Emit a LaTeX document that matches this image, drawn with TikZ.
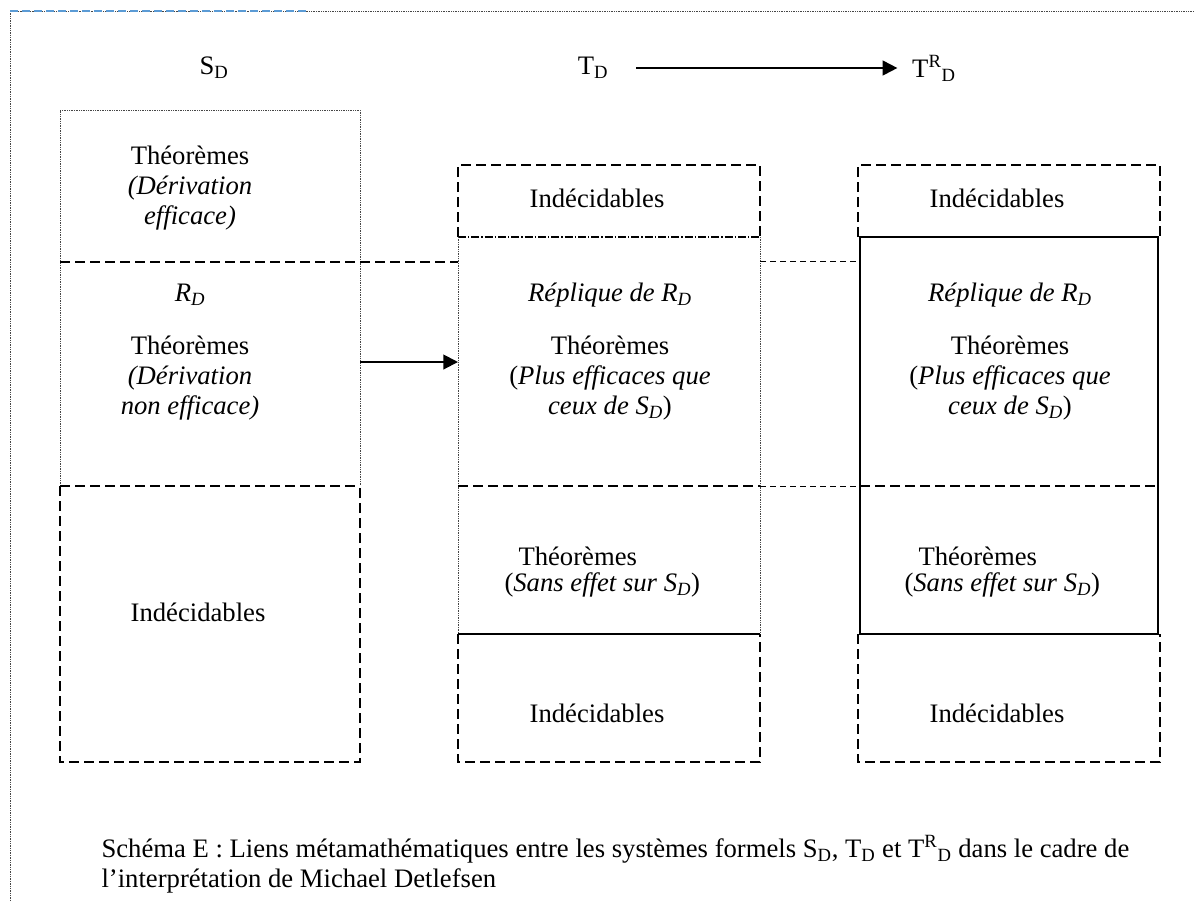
\documentclass[tikz,border=0pt]{standalone}
\usepackage{fontspec}
\setmainfont{Liberation Serif}
\usetikzlibrary{arrows.meta}

\tikzset{every picture/.style={line width=0.75pt}}
\tikzset{
  dotrule/.style={color={rgb, 255:red, 70; green, 70; blue, 70 }, line width=0.7pt, dash pattern=on 0.7pt off 0.6pt},
  dashrule/.style={line width=1.2pt, dash pattern=on 7.5pt off 3.75pt},
  thindash/.style={line width=0.6pt, dash pattern=on 4.5pt off 3pt},
  dashdotrule/.style={line width=1.1pt, dash pattern=on 6pt off 1.5pt on 1pt off 1.5pt},
  solidrule/.style={line width=1.4pt},
  lbl/.style={inner sep=0.75pt, font=\fontsize{20}{22.5}\selectfont, align=center},
  bigarrow/.style={line width=1.5pt, -{Triangle[length=11pt,width=11pt]}},
}

\begin{document}
\begin{tikzpicture}[x=0.75pt,y=0.75pt,yscale=-1,xscale=1]
\useasboundingbox (0,0) rectangle (1194,901);

%Frame
\draw [dotrule] (10,901) -- (10,11) -- (1194,11) ;
\draw [color={rgb, 255:red, 91; green, 155; blue, 213 }, line width=1.2pt, dash pattern=on 6pt off 3pt] (10,11) -- (308,11) ;

%Column S_D
\draw [dotrule] (60,486) -- (60,110) -- (360,110) -- (360,486) ;
\draw [dashrule] (60,262) -- (458,262) ;
\draw [dashrule] (60,486) -- (360,486) ;
\draw [dashrule] (60,486) -- (60,762) -- (360,762) -- (360,486) ;

%Column T_D
\draw [dashrule] (458,237) -- (458,165) -- (760,165) -- (760,237) ;
\draw [dashdotrule] (458,237) -- (760,237) ;
\draw [dotrule] (458,237) -- (458,634) ;
\draw [dotrule] (760,237) -- (760,634) ;
\draw [dashrule] (458,486) -- (760,486) ;
\draw [solidrule] (458,634) -- (760,634) ;
\draw [dashrule] (458,634) -- (458,762) -- (760,762) -- (760,634) ;

%Links between T_D and T^R_D
\draw [thindash] (760,261) -- (858,261) ;
\draw [thindash] (760,486) -- (858,486) ;

%Column T^R_D
\draw [dashrule] (858,237) -- (858,165) -- (1160,165) -- (1160,237) -- cycle ;
\draw [solidrule] (860,237) rectangle (1158,634) ;
\draw [dashrule] (860,486) -- (1158,486) ;
\draw [dashrule] (858,634) -- (858,762) -- (1160,762) -- (1160,634) ;

% Text Node
\node [lbl] (sd) at (214,68) {S\textsubscript{D}};
% Text Node
\node [lbl] (td) at (593,68) {T\textsubscript{D}};
% Text Node
\node [lbl] (trd) at (934,68) {T\textsuperscript{R}\textsubscript{D}};

% Text Node
\node [lbl] (theoA) at (190,188) {Théorèmes\\ \textit{(Dérivation}\\ \textit{efficace)}};
% Text Node
\node [lbl] (rdA) at (190,295) {\textit{R\textsubscript{D}}};
% Text Node
\node [lbl] (theoB) at (190,378) {Théorèmes\\ \textit{(Dérivation}\\ \textit{non efficace)}};
% Text Node
\node [lbl] (indA) at (198,612) {Indécidables};

% Text Node
\node [lbl] (indB) at (597,198) {Indécidables};
% Text Node
\node [lbl] (repB) at (610,295) {\textit{Réplique de R\textsubscript{D}}};
% Text Node
\node [lbl] (theoC) at (610,378) {Théorèmes\\ (\textit{Plus efficaces que}\\ \textit{ceux de S\textsubscript{D}})};
% Text Node
\node [lbl, anchor=west] (theoD) at (517,556) {Théorèmes};
% Text Node
\node [lbl, anchor=west] (sansD) at (503,585) {(\textit{Sans effet sur S\textsubscript{D}})};
% Text Node
\node [lbl] (indC) at (597,713) {Indécidables};

% Text Node
\node [lbl] (indE) at (997,198) {Indécidables};
% Text Node
\node [lbl] (repE) at (1010,295) {\textit{Réplique de R\textsubscript{D}}};
% Text Node
\node [lbl] (theoE) at (1010,378) {Théorèmes\\ (\textit{Plus efficaces que}\\ \textit{ceux de S\textsubscript{D}})};
% Text Node
\node [lbl, anchor=west] (theoF) at (917,556) {Théorèmes};
% Text Node
\node [lbl, anchor=west] (sansF) at (903,585) {(\textit{Sans effet sur S\textsubscript{D}})};
% Text Node
\node [lbl] (indF) at (997,713) {Indécidables};

% Caption
\node [lbl, anchor=west, align=left] (caption) at (100,864) {Schéma E : Liens métamathématiques entre les systèmes formels S\textsubscript{D}, T\textsubscript{D} et T\textsuperscript{R}\textsubscript{D} dans le cadre de\\ l’interprétation de Michael Detlefsen};

%Arrows
\coordinate (sdout) at (360,362);
\coordinate (tdin) at (458,362);
\draw [bigarrow] (sdout) -- (tdin) ;
\draw [bigarrow, shorten <=20pt, shorten >=10pt] (td) -- (trd) ;

\end{tikzpicture}
\end{document}
